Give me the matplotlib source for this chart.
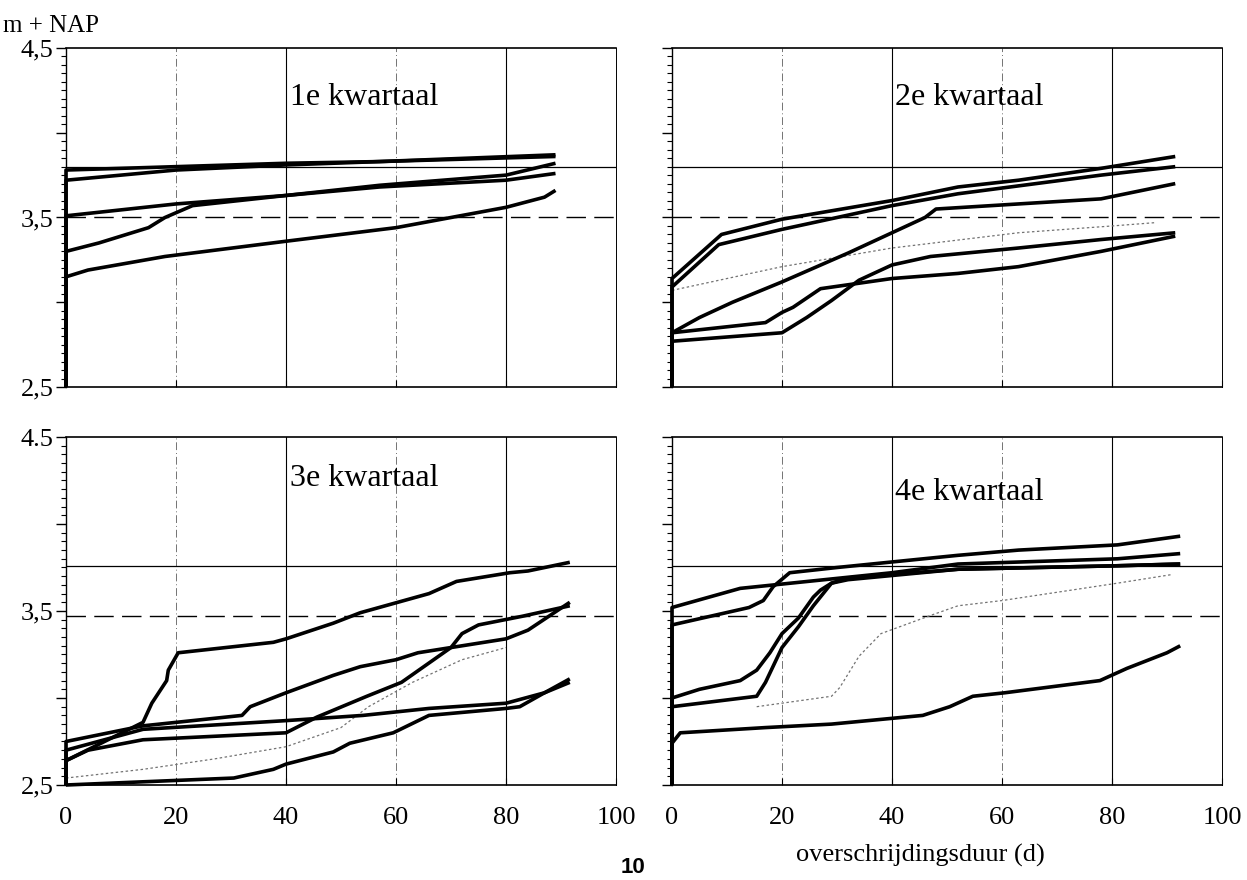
import numpy as np
import matplotlib
matplotlib.use('Agg')
import matplotlib.pyplot as plt
from matplotlib.ticker import MultipleLocator, FixedLocator, FixedFormatter

plt.rcParams['font.family'] = ['Liberation Serif', 'DejaVu Serif']

# overschrijdingsduurlijnen per kwartaal (dagen, m + NAP); True = dunne stippellijn
q1_days = [[0, 0, 20, 40, 57, 89],
           [0, 0, 10, 20, 40, 57, 89],
           [0, 0, 20, 40, 57, 80, 89],
           [0, 0, 6, 15, 18, 23, 40, 57, 80, 89],
           [0, 0, 4, 18, 40, 60, 80, 87, 89]]
q1_levels = [[2.5, 3.78, 3.80, 3.82, 3.83, 3.87],
             [2.5, 3.72, 3.75, 3.78, 3.81, 3.83, 3.86],
             [2.5, 3.51, 3.58, 3.63, 3.68, 3.72, 3.76],
             [2.5, 3.30, 3.35, 3.44, 3.50, 3.57, 3.63, 3.69, 3.75, 3.82],
             [2.5, 3.15, 3.19, 3.27, 3.36, 3.44, 3.56, 3.62, 3.66]]
q1_thin = [False, False, False, False, False]

q2_days = [[0, 0, 9, 20, 40, 52, 63, 78, 91.5],
           [0, 0, 8.5, 20, 40, 52, 78, 91.5],
           [0, 20, 40, 63, 80, 88],
           [0, 0, 5, 11, 20, 32, 40, 46, 48, 63, 78, 91.5],
           [0, 0, 17, 20, 22, 27, 40, 52, 63, 78, 91.5],
           [0, 0, 20, 24.5, 29, 34, 40, 47, 63, 78, 91.5]]
q2_levels = [[2.5, 3.14, 3.40, 3.49, 3.60, 3.68, 3.72, 3.79, 3.86],
             [2.5, 3.09, 3.34, 3.43, 3.57, 3.64, 3.75, 3.80],
             [3.07, 3.21, 3.32, 3.41, 3.45, 3.47],
             [2.5, 2.82, 2.91, 3.00, 3.12, 3.29, 3.41, 3.50, 3.55, 3.58, 3.61, 3.70],
             [2.5, 2.82, 2.88, 2.94, 2.97, 3.08, 3.14, 3.17, 3.21, 3.30, 3.39],
             [2.5, 2.77, 2.82, 2.91, 3.01, 3.13, 3.22, 3.27, 3.32, 3.37, 3.41]]
q2_thin = [False, False, True, False, False, False]

q3_days = [[0, 0, 14, 15.6, 18.3, 18.6, 20.4, 37.7, 40, 48.6, 53.5, 66, 71, 80.7, 84, 91.6],
           [0, 0, 14, 32, 33.5, 40, 48.6, 53.5, 60, 64, 80, 84, 91.6],
           [0, 0, 4, 14, 40, 45.6, 54.7, 61, 70, 72, 75, 83, 91.6],
           [0, 0, 14, 40, 54, 66, 80, 87, 91.6],
           [0, 0, 30.5, 37.7, 40, 48.6, 51.6, 59.5, 66, 80, 82.5, 87, 91.6],
           [0, 14, 27, 40, 50, 55, 63, 72, 80]]
q3_levels = [[2.5, 2.64, 2.86, 2.97, 3.10, 3.16, 3.26, 3.32, 3.34, 3.43, 3.49, 3.60, 3.67, 3.72, 3.73, 3.78],
             [2.5, 2.75, 2.84, 2.90, 2.95, 3.03, 3.13, 3.18, 3.22, 3.26, 3.34, 3.39, 3.55],
             [2.5, 2.64, 2.70, 2.76, 2.80, 2.89, 3.01, 3.09, 3.29, 3.37, 3.42, 3.47, 3.53],
             [2.5, 2.70, 2.82, 2.87, 2.90, 2.94, 2.97, 3.03, 3.11],
             [2.5, 2.50, 2.54, 2.59, 2.62, 2.69, 2.74, 2.80, 2.90, 2.94, 2.95, 3.03, 3.09],
             [2.54, 2.59, 2.65, 2.72, 2.83, 2.95, 3.09, 3.22, 3.29]]
q3_thin = [False, False, False, False, False, True]

q4_days = [[0, 0, 12.4, 40, 52, 81, 92.4],
           [0, 0, 14, 16.6, 18.4, 21.4, 30, 52, 63, 81, 92.4],
           [0, 0, 5, 12.4, 15.4, 17.8, 20, 23, 25.7, 27, 29, 32, 52, 81, 92.4],
           [0, 0, 15.4, 17, 20, 23, 25.7, 29, 32, 52, 81, 92.4],
           [15.4, 29, 30.5, 34, 38, 47.5, 52, 60, 81, 91],
           [0, 0, 1.5, 17, 29, 45.6, 50.5, 54.7, 60.5, 77.8, 82.7, 90, 92.4]]
q4_levels = [[2.5, 3.52, 3.63, 3.72, 3.77, 3.80, 3.83],
             [2.5, 3.42, 3.52, 3.56, 3.64, 3.72, 3.75, 3.82, 3.85, 3.88, 3.93],
             [2.5, 3.00, 3.05, 3.10, 3.16, 3.26, 3.37, 3.46, 3.58, 3.62, 3.66, 3.68, 3.74, 3.76, 3.77],
             [2.5, 2.95, 3.01, 3.09, 3.29, 3.41, 3.53, 3.66, 3.69, 3.74, 3.76, 3.77],
             [2.95, 3.01, 3.06, 3.24, 3.37, 3.48, 3.53, 3.56, 3.66, 3.71],
             [2.5, 2.74, 2.80, 2.83, 2.85, 2.90, 2.95, 3.01, 3.03, 3.10, 3.17, 3.26, 3.30]]
q4_thin = [False, False, False, False, True, False]

titles = ['1e kwartaal', '2e kwartaal', '3e kwartaal', '4e kwartaal']
title_pos = [(40.7, 4.21), (40.5, 4.21), (40.7, 4.26), (40.5, 4.18)]
solid_ref = [3.80, 3.80, 3.76, 3.76]
dashed_ref = [3.50, 3.50, 3.47, 3.47]
ytick_labels = [['2,5', '', '3,5', '', '4,5'], None,
                ['2,5', '', '3,5', '', '4.5'], None]
xticks = [0, 20, 40, 60, 80, 100]

all_days = [q1_days, q2_days, q3_days, q4_days]
all_levels = [q1_levels, q2_levels, q3_levels, q4_levels]
all_thin = [q1_thin, q2_thin, q3_thin, q4_thin]

fig = plt.figure(figsize=(12.47, 8.80), dpi=100)
W, H = 1247, 880
boxes = [(66, 48, 616, 387), (672, 48, 1222, 387),
         (66, 437, 616, 785), (672, 437, 1222, 785)]

for i in range(4):
    x0, y0, x1, y1 = boxes[i]
    ax = fig.add_axes([x0 / W, 1 - y1 / H, (x1 - x0) / W, (y1 - y0) / H])
    ax.set_xlim(0, 100)
    ax.set_ylim(2.5, 4.5)

    for gx in [20, 60]:
        ax.axvline(gx, color='0.45', lw=0.7, ls=(0, (8, 3, 1, 3)), zorder=1)
    for gx in [40, 80]:
        ax.axvline(gx, color='black', lw=0.8, zorder=1)
    ax.axhline(solid_ref[i], color='black', lw=0.9, zorder=1)
    ax.axhline(dashed_ref[i], color='black', lw=1.0, ls=(0, (14, 6)), zorder=1)

    for d, v, thin in zip(all_days[i], all_levels[i], all_thin[i]):
        if thin:
            ax.plot(d, v, color='0.45', lw=0.9, ls=(0, (2, 2)), zorder=2)
        else:
            ax.plot(d, v, color='black', lw=2.6, solid_joinstyle='round',
                    solid_capstyle='butt', zorder=3, clip_on=False)

    ax.text(title_pos[i][0], title_pos[i][1], titles[i], fontsize=23,
            va='center', ha='left')

    for side in ['top', 'bottom']:
        ax.spines[side].set_linewidth(1.2)
    ax.spines['left'].set_linewidth(1.0)
    ax.spines['right'].set_linewidth(0.7)

    ax.yaxis.set_major_locator(FixedLocator([2.5, 3.0, 3.5, 4.0, 4.5]))
    ax.yaxis.set_minor_locator(MultipleLocator(0.05))
    ax.tick_params(axis='y', which='major', direction='out', length=7, width=1.0,
                   labelsize=19, pad=2)
    ax.tick_params(axis='y', which='minor', direction='out', length=3.5, width=0.8)
    if ytick_labels[i] is None:
        ax.yaxis.set_major_formatter(FixedFormatter(['', '', '', '', '']))
    else:
        ax.yaxis.set_major_formatter(FixedFormatter(ytick_labels[i]))

    ax.set_xticks(xticks)
    ax.tick_params(axis='x', direction='in', length=5, width=0.8,
                   labelsize=19, pad=16)
    if i < 2:
        ax.set_xticklabels([])

fig.text(3 / W, 1 - 26 / H, 'm + NAP', fontsize=18, va='center', ha='left')
fig.text(920 / W, 1 - 855 / H, 'overschrijdingsduur (d)', fontsize=19,
         va='center', ha='center')
fig.text(633 / W, 2 / H, '10', fontsize=16, fontweight='bold',
         family='Liberation Sans', va='bottom', ha='center')

plt.savefig('out.png', dpi=100)
